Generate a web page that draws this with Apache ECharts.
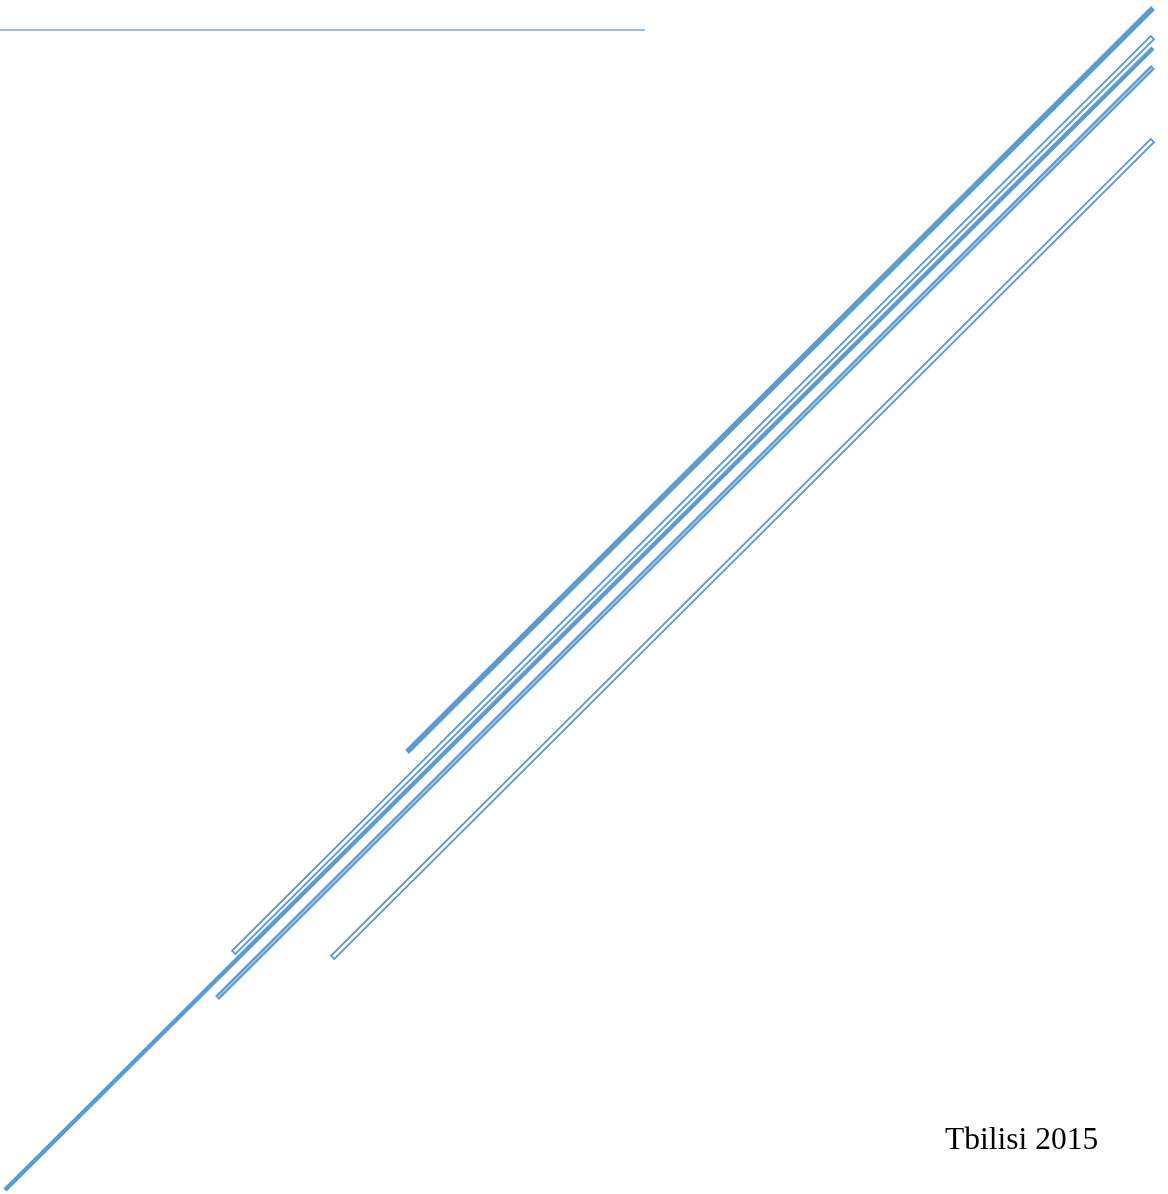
<!DOCTYPE html>
<html>
<head>
<meta charset="utf-8">
<script src="https://cdn.jsdelivr.net/npm/echarts@6/dist/echarts.min.js"></script>
<style>
html,body{margin:0;padding:0;background:#fff;}
#chart{width:1168px;height:1194px;}
</style>
</head>
<body>
<div id="chart"></div>
<script>
// Diagonal stripes: start (lower-left) and end (upper-right) points
const stripeNames = ['solid', 'hollowWide', 'long', 'doubleCore', 'hollowLow'];
const startX = [407, 233, 5, 217, 332];
const startY = [752, 953, 1190, 998, 958];
const endX = [1153, 1153, 1153, 1153, 1153];
const endY = [8, 37, 48, 67, 140];
const stripeKind = ['solid', 'hollow', 'solid', 'core', 'hollow'];
// Horizontal rule at the top
const ruleX = [0, 645];
const ruleY = [30, 30];
const caption = 'Tbilisi 2015';

const BLUE = '#5b9bd5';
const series = [];
series.push({
  type: 'line', symbol: 'none', silent: true, clip: false,
  data: [[ruleX[0], ruleY[0]], [ruleX[1], ruleY[1]]],
  lineStyle: { color: '#95bfe5', width: 2, cap: 'butt' }
});
for (let i = 0; i < stripeNames.length; i++) {
  const kind = stripeKind[i];
  const outerW = kind === 'solid' ? (i === 0 ? 5.5 : 4.5) : (kind === 'hollow' ? 6.5 : 5.5);
  series.push({
    name: stripeNames[i], type: 'line', symbol: 'none', silent: true, clip: false,
    data: [[startX[i], startY[i]], [endX[i], endY[i]]],
    lineStyle: { color: BLUE, width: outerW, cap: 'butt' }
  });
  if (kind !== 'solid') {
    const dx = endX[i] - startX[i], dy = endY[i] - startY[i];
    const len = Math.hypot(dx, dy);
    const inset = kind === 'hollow' ? 1.8 : 1;
    const ux = dx / len * inset, uy = dy / len * inset;
    series.push({
      type: 'line', symbol: 'none', silent: true, clip: false,
      data: [[startX[i] + ux, startY[i] + uy], [endX[i] - ux, endY[i] - uy]],
      lineStyle: { color: kind === 'hollow' ? '#ffffff' : '#a8c9ec', width: kind === 'hollow' ? 2.6 : 1.4, cap: 'butt' }
    });
  }
}

const chart = echarts.init(document.getElementById('chart'), null, { renderer: 'canvas' });
chart.setOption({
  animation: false,
  backgroundColor: '#ffffff',
  title: {
    text: caption, left: 945, top: 1125, padding: 0,
    textStyle: { fontFamily: 'Liberation Serif', fontWeight: 'normal', fontSize: 31.5, color: '#000000' }
  },
  grid: { left: 0, right: 0, top: 0, bottom: 0 },
  xAxis: { type: 'value', min: 0, max: 1168, show: false },
  yAxis: { type: 'value', min: 0, max: 1194, inverse: true, show: false },
  series: series
});
</script>
</body>
</html>
